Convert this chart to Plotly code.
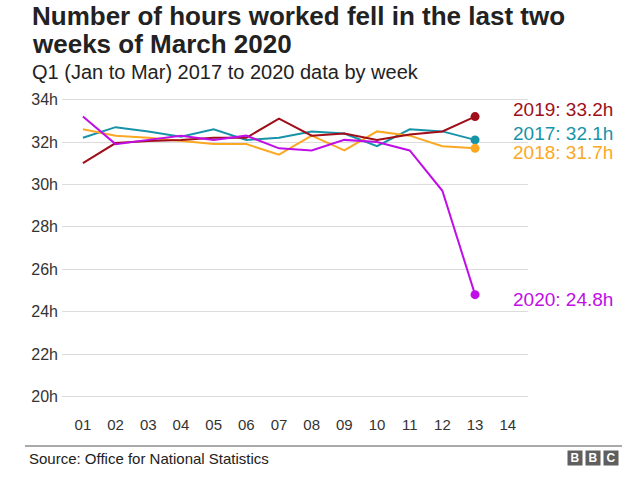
import plotly.graph_objects as go

weeks = list(range(1, 15))
week_labels = ["01", "02", "03", "04", "05", "06", "07", "08", "09", "10", "11", "12", "13", "14"]
data_weeks = list(range(1, 14))

hours_2017 = [32.2, 32.7, 32.5, 32.25, 32.6, 32.1, 32.2, 32.5, 32.4, 31.8, 32.6, 32.5, 32.1]
hours_2018 = [32.6, 32.3, 32.2, 32.05, 31.9, 31.9, 31.4, 32.3, 31.6, 32.5, 32.3, 31.8, 31.7]
hours_2019 = [31.0, 31.95, 32.05, 32.1, 32.2, 32.2, 33.1, 32.3, 32.4, 32.1, 32.35, 32.5, 33.2]
hours_2020 = [33.2, 31.9, 32.1, 32.3, 32.1, 32.3, 31.7, 31.6, 32.1, 32.0, 31.6, 29.7, 24.8]

y_ticks = [20, 22, 24, 26, 28, 30, 32, 34]
y_labels = ["20h", "22h", "24h", "26h", "28h", "30h", "32h", "34h"]

FONT = "Liberation Sans, Arial, Helvetica, sans-serif"
W, H = 640, 479
ML, MR, MT, MB = 62, 112, 89, 72

# name, values, colour, vertical nudge of the end label (px, + is up)
series = [
    ("2017", hours_2017, "#1793a8", 6),
    ("2018", hours_2018, "#fba823", -4),
    ("2019", hours_2019, "#a00e19", 7),
    ("2020", hours_2020, "#c00ee6", -5),
]


def px_x(px):
    return (px - ML) / (W - ML - MR)


def px_y(py):
    return (H - MB - py) / (H - MT - MB)


fig = go.Figure()
for name, values, color, _ in series:
    fig.add_trace(
        go.Scatter(
            x=data_weeks,
            y=values,
            mode="lines",
            name=name,
            line=dict(color=color, width=2),
            hoverinfo="skip",
        )
    )
    # end-point marker
    fig.add_trace(
        go.Scatter(
            x=data_weeks[-1:],
            y=values[-1:],
            mode="markers",
            marker=dict(color=color, size=9),
            hoverinfo="skip",
        )
    )

for name, values, color, shift in series:
    fig.add_annotation(
        x=data_weeks[-1],
        y=values[-1],
        xref="x",
        yref="y",
        text=f"{name}: {values[-1]}h",
        showarrow=False,
        xanchor="left",
        xshift=36,
        yshift=shift,
        font=dict(family=FONT, size=19, color=color),
    )

fig.update_layout(
    width=W,
    height=H,
    plot_bgcolor="white",
    paper_bgcolor="white",
    showlegend=False,
    margin=dict(l=ML, r=MR, t=MT, b=MB),
    font=dict(family=FONT, size=15, color="#222222"),
)

fig.update_xaxes(
    range=[0.36, 14.62],
    tickvals=weeks,
    ticktext=week_labels,
    showgrid=False,
    zeroline=False,
    showline=False,
    ticks="",
    ticklabelstandoff=7,
    tickfont=dict(size=15, color="#333333"),
)
fig.update_yaxes(
    range=[19.5, 34.5],
    tickvals=y_ticks,
    ticktext=y_labels,
    showgrid=True,
    gridcolor="#dcdcdc",
    gridwidth=1,
    zeroline=False,
    showline=False,
    ticks="",
    ticklabelstandoff=3,
    tickfont=dict(size=16, color="#333333"),
)

# title (two lines) and subtitle
title_lines = ["Number of hours worked fell in the last two", "weeks of March 2020"]
for line, cy in zip(title_lines, [16, 44]):
    fig.add_annotation(
        x=px_x(30),
        y=px_y(cy),
        xref="paper",
        yref="paper",
        text=f"<b>{line}</b>",
        showarrow=False,
        xanchor="left",
        yanchor="middle",
        font=dict(family=FONT, size=26, color="#222222"),
    )

fig.add_annotation(
    x=px_x(30),
    y=px_y(72),
    xref="paper",
    yref="paper",
    text="Q1 (Jan to Mar) 2017 to 2020 data by week",
    showarrow=False,
    xanchor="left",
    yanchor="middle",
    font=dict(family=FONT, size=20, color="#222222"),
)

# footer rule, source and logo
fig.add_shape(
    type="line",
    xref="paper",
    yref="paper",
    x0=px_x(25),
    x1=px_x(622),
    y0=px_y(446),
    y1=px_y(446),
    line=dict(color="#555555", width=1),
)

fig.add_annotation(
    x=px_x(27),
    y=px_y(458),
    xref="paper",
    yref="paper",
    text="Source: Office for National Statistics",
    showarrow=False,
    xanchor="left",
    yanchor="middle",
    font=dict(family=FONT, size=15, color="#222222"),
)

for i, letter in enumerate(["B", "B", "C"]):
    fig.add_annotation(
        x=px_x(567 + i * 18 + 7.5),
        y=px_y(458),
        xref="paper",
        yref="paper",
        text=f"<b>{letter}</b>",
        showarrow=False,
        xanchor="center",
        yanchor="middle",
        width=12,
        height=12,
        bgcolor="#5f5f5f",
        borderpad=1,
        font=dict(family=FONT, size=12, color="white"),
    )

fig.write_html(
    "out.html",
    config={"displayModeBar": False},
    post_script="document.body.style.margin = '0';",
)
